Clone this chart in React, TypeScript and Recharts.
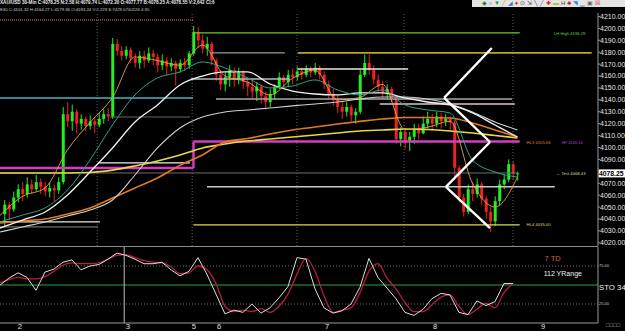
import React from 'react';
import { ComposedChart, Bar, Line, XAxis, YAxis, ReferenceLine, ReferenceDot } from 'recharts';

// 30-min XAU/USD bars, index 1..115 (open = previous close)
const firstOpen = 4044;
const closes = [
  4052, 4048, 4058, 4065, 4061, 4069, 4065, 4071, 4067, 4063,
  4066, 4064, 4071, 4128, 4122, 4130, 4120, 4124, 4118, 4122,
  4119, 4124, 4128, 4126, 4187, 4181, 4177, 4182, 4175, 4171,
  4177, 4173, 4179, 4176, 4169, 4173, 4168, 4171, 4166, 4171,
  4169, 4179, 4197, 4190, 4183, 4187, 4173, 4161, 4153, 4159,
  4165, 4157, 4163, 4155, 4151, 4147, 4151, 4143, 4138, 4145,
  4151, 4159, 4155, 4161, 4159, 4164, 4161, 4166, 4163, 4167,
  4161, 4153, 4145, 4140, 4134, 4130, 4134, 4127, 4130, 4161,
  4171, 4165, 4157, 4151, 4146, 4149, 4142, 4107, 4113, 4105,
  4109, 4116, 4112, 4120, 4124, 4120, 4126, 4122, 4124, 4121,
  4083, 4058, 4046, 4065, 4061, 4069, 4057, 4046, 4038, 4055,
  4069, 4073, 4086, 4077.77, 4078.25,
];
const highs = [
  4056, 4054, 4063, 4069, 4071, 4075, 4073, 4077, 4074, 4071,
  4071, 4069, 4075, 4134, 4138, 4136, 4132, 4128, 4126, 4127,
  4126, 4129, 4132, 4133, 4192, 4191, 4185, 4185, 4184, 4179,
  4181, 4181, 4184, 4182, 4179, 4178, 4176, 4175, 4173, 4174,
  4175, 4181, 4202, 4201, 4195, 4193, 4189, 4175, 4165, 4163,
  4169, 4167, 4167, 4165, 4159, 4156, 4155, 4153, 4147, 4149,
  4153, 4163, 4161, 4165, 4166, 4168, 4167, 4169, 4168, 4171,
  4169, 4164, 4156, 4149, 4144, 4138, 4138, 4136, 4133, 4165,
  4178, 4178, 4169, 4161, 4156, 4153, 4151, 4144, 4117, 4115,
  4113, 4120, 4120, 4126, 4130, 4128, 4130, 4129, 4128, 4126,
  4123, 4085, 4061, 4069, 4071, 4074, 4071, 4059, 4050, 4059,
  4073, 4077, 4090, 4088, 4079.74,
];
const lows = [
  4034, 4039, 4046, 4054, 4055, 4058, 4061, 4063, 4061, 4059,
  4058, 4055, 4061, 4069, 4117, 4114, 4112, 4115, 4114, 4115,
  4112, 4117, 4120, 4122, 4124, 4177, 4173, 4174, 4171, 4167,
  4166, 4167, 4171, 4169, 4163, 4165, 4161, 4164, 4152, 4163,
  4164, 4166, 4177, 4184, 4179, 4177, 4169, 4156, 4148, 4147,
  4151, 4151, 4153, 4149, 4143, 4141, 4139, 4137, 4132, 4134,
  4141, 4149, 4149, 4151, 4153, 4156, 4157, 4159, 4159, 4161,
  4157, 4149, 4141, 4135, 4129, 4124, 4126, 4122, 4120, 4128,
  4159, 4161, 4153, 4146, 4141, 4141, 4138, 4103, 4101, 4099,
  4097, 4103, 4107, 4111, 4116, 4114, 4117, 4116, 4118, 4114,
  4075, 4054, 4042, 4044, 4055, 4058, 4052, 4040, 4029, 4034,
  4051, 4065, 4071, 4073, 4072.2,
];

// moving averages, read every 5th bar
const maIdx = [0, 5, 10, 15, 20, 25, 30, 35, 40, 45, 50, 55, 60, 65, 70, 75, 80, 85, 90, 95, 100, 105, 110, 115];
const maFast = [4043, 4059, 4066, 4098, 4121, 4142, 4176, 4173, 4169, 4186, 4160, 4155, 4144, 4158, 4165, 4140, 4142, 4153, 4115, 4117, 4122, 4070, 4050, 4075];
const maTeal = [4037.5, 4043.3, 4049.2, 4064.3, 4089.5, 4118.9, 4144.1, 4158.4, 4163.4, 4171.8, 4166.8, 4158.4, 4150, 4151.6, 4156.7, 4148.3, 4144.1, 4148.3, 4135.7, 4131.5, 4129, 4089.5, 4079.4, 4075.2];
const maWhiteA = [4032.4, 4039.1, 4045.8, 4060.1, 4079.4, 4099.6, 4121.4, 4135.7, 4152.5, 4160, 4163.4, 4163.4, 4153.3, 4147.4, 4144.9, 4144.1, 4145.8, 4145.8, 4141.6, 4138.2, 4135.7, 4129, 4118.9, 4108.8];
const maWhiteB = [4029, 4033.3, 4037.5, 4042.5, 4047.5, 4055.9, 4076.9, 4099.6, 4116.4, 4125.6, 4129.8, 4131.5, 4133.2, 4134.9, 4136.5, 4138.2, 4140.7, 4142.4, 4142.4, 4140.7, 4136.5, 4129.8, 4121.4, 4114.7];
const maOrange = [4036.6, 4038.3, 4040, 4044.2, 4049.2, 4057.6, 4066, 4074.4, 4085, 4093.7, 4104.6, 4107.5, 4111.3, 4114.7, 4117.2, 4119.7, 4121.9, 4123.9, 4125.2, 4125.2, 4124.8, 4120.6, 4114.7, 4108.8];
const maYellow = [4078.6, 4078.6, 4078.6, 4078.6, 4079, 4081, 4084.5, 4088.7, 4093.7, 4099.6, 4102.9, 4105.4, 4107.1, 4108.8, 4110.5, 4112.2, 4113.9, 4114.7, 4115.5, 4115.1, 4113.9, 4112.2, 4110.1, 4108];

// drawn levels: price, from bar, to bar
const levelPrice = [4207.1, 4196.29, 4179.4, 4179.4, 4165.9, 4157.5, 4141.6, 4140.7, 4136.5, 4082.8, 4105, 4087, 4078.6, 4067, 4037.5, 4033.3, 4035, 4125.6];
const levelFrom = [0, 43, 47, 66.2, 66.2, 42.4, 0, 48, 84.4, 0, 43, 21.8, 0, 46, 0, 0, 43, 24.4];
const levelTo = [43, 115.5, 63.3, 131.5, 90.7, 64.4, 42.9, 113.8, 114.4, 43, 115.5, 42.2, 115, 123.3, 22.2, 21.8, 115.5, 42.2];
const levelStyle = [
  { c: '#c8946a', w: 1, d: '1 1' },
  { c: '#66cc33', w: 1.2, d: '' },
  { c: '#9a9a9a', w: 1.2, d: '' },
  { c: '#b4a832', w: 1.6, d: '' },
  { c: '#e6e6e6', w: 1.6, d: '' },
  { c: '#b8b8b8', w: 1.4, d: '' },
  { c: '#45b4c4', w: 1.6, d: '' },
  { c: '#a8a8a8', w: 1.4, d: '' },
  { c: '#dcc4d0', w: 1.4, d: '' },
  { c: '#d43cc4', w: 2.4, d: '' },
  { c: '#d43cc4', w: 2.4, d: '' },
  { c: '#f0f0f0', w: 1.2, d: '' },
  { c: '#6e6e6e', w: 1, d: '' },
  { c: '#c8c8c8', w: 1.6, d: '' },
  { c: '#f0e6d0', w: 1.2, d: '' },
  { c: '#8a8a8a', w: 1, d: '' },
  { c: '#e0d848', w: 1.2, d: '' },
  { c: '#808080', w: 0.8, d: '' },
];

// white zigzag drawing
const zigX = [109.3, 98.7, 108.9, 99.1, 108.9];
const zigP = [4183.5, 4141.6, 4104.6, 4066.9, 4032.4];

const priceTicks = [4020, 4030, 4040, 4050, 4060, 4070, 4090, 4100, 4110, 4120, 4130, 4140, 4150, 4160, 4170, 4180, 4190, 4200, 4210];
const dayTicks = [4.4, 28.4, 43.1, 48.7, 72.7, 96.7, 120.7];
const dayLabels = ['2', '3', '5', '6', '7', '8', '9'];
const midDay = [21.6, 42.7, 66, 89.8, 114];
const weekSep = 27.6;

// stochastic, every 2nd bar
const stochK = [50, 59, 66, 60, 43, 67, 71, 80, 83, 70, 75, 77, 84, 92, 89, 84, 78, 78, 80, 70, 62, 68, 86, 64, 38, 12, 17, 14, 25, 13, 20, 33, 48, 86, 84, 45, 20, 13, 16, 25, 47, 85, 60, 46, 32, 14, 10, 18, 32, 39, 37, 14, 11, 29, 23, 28, 52, 52];
const stochD = [53, 57, 60, 58, 58, 61, 68, 76, 79, 78, 78, 79, 84, 89, 90, 86, 82, 80, 79, 74, 65, 66, 75, 70, 52, 22, 15, 17, 15, 19, 14, 22, 38, 64, 85, 68, 36, 14, 17, 20, 40, 68, 78, 59, 45, 27, 15, 15, 24, 34, 37, 22, 11, 18, 26, 20, 40, 52];

const lastClose = closes[closes.length - 1];
const X_MAX = 132.9;
const FONT = '"Liberation Sans", Arial, sans-serif';

const priceData = Array.from({ length: closes.length + 1 }, (_, i) => {
  const row: any = { i };
  if (i > 0) {
    const o = i === 1 ? firstOpen : closes[i - 2];
    row.o = o;
    row.c = closes[i - 1];
    row.h = highs[i - 1];
    row.l = lows[i - 1];
    row.range = [lows[i - 1], highs[i - 1]];
  }
  const k = maIdx.indexOf(i);
  if (k >= 0) {
    row.fast = maFast[k];
    row.teal = maTeal[k];
    row.wa = maWhiteA[k];
    row.wb = maWhiteB[k];
    row.orange = maOrange[k];
    row.yellow = maYellow[k];
  }
  return row;
});

const stochData = stochK.map((k, j) => ({ i: j * 2, k, d: stochD[j] }));

function Candle(props: any) {
  const { x, y, width, height, payload } = props;
  if (!payload || payload.h == null) return null;
  const top = Math.min(y, y + height);
  const h = Math.abs(height);
  const ppu = h / (payload.h - payload.l || 1);
  const up = payload.c >= payload.o;
  const color = up ? '#22ee22' : '#ee2222';
  const bTop = top + (payload.h - Math.max(payload.o, payload.c)) * ppu;
  const bBot = top + (payload.h - Math.min(payload.o, payload.c)) * ppu;
  const cx = x + width / 2;
  return (
    <g>
      <line x1={cx} x2={cx} y1={top} y2={top + h} stroke={color} strokeWidth={1} />
      <rect x={x} y={bTop} width={width} height={Math.max(1, bBot - bTop)} fill={color} />
    </g>
  );
}

function PriceTag(props: any) {
  const vb = props.viewBox;
  if (!vb) return null;
  const x = vb.x + vb.width;
  return (
    <g>
      <rect x={x + 0.5} y={vb.y - 4} width={27} height={8} fill="#ffffff" />
      <text x={x + 1} y={vb.y + 2.6} fontSize={6.8} fontWeight="bold" fill="#000" fontFamily={FONT}>
        {lastClose.toFixed(2)}
      </text>
    </g>
  );
}

const smallLabel = (value: string, fill: string, fontSize: number) => ({
  value,
  position: 'right' as const,
  offset: 1,
  fill,
  fontSize,
  fontFamily: FONT,
});

const toolIcons = ['◆', '⌕', '▼', '╱', '◢', '♦', '⊙', '⇲', '╲', '╱', '✚', '▬', 'H', '♣', '◥', '▁', '▣', '☒'];
const toolColors = ['#2a8a3a', '#8a4ab0', '#2a9a2a', '#d08a20', '#3a7ad0', '#d02020', '#555', '#555', '#444', '#8a4ab0', '#d02020', '#c8b820', '#444', '#c02020', '#3a8ad0', '#3a8ad0', '#666', '#d02020'];

export default function App() {
  return (
    <div style={{ position: 'relative', width: 625, height: 331, background: '#000', overflow: 'hidden', fontFamily: FONT }}>
      <style>{'body{margin:0;background:#000}'}</style>

      <div style={{ position: 'absolute', left: 0, top: 0, fontSize: 4.6, color: '#e8e8e8', whiteSpace: 'nowrap', lineHeight: '6px', fontWeight: 'bold' }}>
        XAU/USD 30-Min C:4078.25 N:2.58 H:4079.74 L:4072.20 O:4077.77 B:4078.25 A:4078.55 V:2,642 CI:6
      </div>
      <div style={{ position: 'absolute', left: 0, top: 6.5, fontSize: 4.3, color: '#cfcfcf', whiteSpace: 'nowrap', lineHeight: '6px' }}>
        E30 C:4101.32 H:4164.27 L:4179.36 O:4183.24 V:2,229 S:7429 07/02/26 4:35
      </div>
      <div style={{ position: 'absolute', left: 472, top: 0, width: 153, height: 7, background: '#e4e4e4', display: 'flex', gap: 2, paddingLeft: 10, boxSizing: 'border-box', fontSize: 6, lineHeight: '7px' }}>
        {toolIcons.map((t, k) => (
          <span key={k} style={{ color: toolColors[k] }}>{t}</span>
        ))}
      </div>

      <div style={{ position: 'absolute', left: 0, top: 0 }}>
        <ComposedChart width={625} height={246} data={priceData} margin={{ top: 13, right: 0, bottom: 0, left: 0 }}>
          <XAxis dataKey="i" type="number" domain={[0, X_MAX]} hide allowDataOverflow />
          <YAxis
            orientation="right"
            domain={[4017.3, 4212.9]}
            ticks={priceTicks}
            interval={0}
            width={27}
            allowDataOverflow
            tickSize={2}
            tickMargin={0}
            tick={{ fill: '#e6e6e6', fontSize: 7, fontFamily: FONT }}
            tickFormatter={(v: number) => v.toFixed(2)}
            axisLine={{ stroke: '#9a9a9a' }}
            tickLine={{ stroke: '#9a9a9a' }}
          />
          {midDay.map((m, k) => (
            <ReferenceLine key={'md' + k} x={m} stroke="#5a5a5a" strokeDasharray="1 2" />
          ))}
          {levelPrice.map((p, k) => (
            <ReferenceLine
              key={'lv' + k}
              segment={[{ x: levelFrom[k], y: p }, { x: levelTo[k], y: p }]}
              stroke={levelStyle[k].c}
              strokeWidth={levelStyle[k].w}
              strokeDasharray={levelStyle[k].d}
            />
          ))}
          <ReferenceLine
            segment={[{ x: levelFrom[10], y: levelPrice[9] }, { x: levelFrom[10], y: levelPrice[10] }]}
            stroke={levelStyle[10].c}
            strokeWidth={levelStyle[10].w}
          />
          <Line dataKey="yellow" stroke="#e8d840" strokeWidth={1.6} dot={false} connectNulls type="monotone" isAnimationActive={false} />
          <Line dataKey="orange" stroke="#e07a22" strokeWidth={1.6} dot={false} connectNulls type="monotone" isAnimationActive={false} />
          <Line dataKey="wb" stroke="#d0d0d0" strokeWidth={1.1} dot={false} connectNulls type="monotone" isAnimationActive={false} />
          <Line dataKey="wa" stroke="#f2f2f2" strokeWidth={1.3} dot={false} connectNulls type="monotone" isAnimationActive={false} />
          <Line dataKey="teal" stroke="#2aa58a" strokeWidth={1} dot={false} connectNulls type="monotone" isAnimationActive={false} />
          <Bar dataKey="range" barSize={3} shape={(p: any) => <Candle {...p} />} isAnimationActive={false} />
          <Line dataKey="fast" stroke="#e8a44a" strokeWidth={0.9} dot={false} connectNulls type="monotone" isAnimationActive={false} />
          {zigX.slice(1).map((x, k) => (
            <ReferenceLine
              key={'zz' + k}
              segment={[{ x: zigX[k], y: zigP[k] }, { x, y: zigP[k + 1] }]}
              stroke="#ffffff"
              strokeWidth={2.4}
            />
          ))}
          <ReferenceDot x={122.9} y={4196} r={0} fill="none" stroke="none" label={smallLabel('LH High 4196.29', '#6fd040', 4.2)} />
          <ReferenceDot x={116.8} y={4104.4} r={0} fill="none" stroke="none" label={smallLabel('HL3 4105.06', '#e07a40', 4.2)} />
          <ReferenceDot x={124.6} y={4104.4} r={0} fill="none" stroke="none" label={smallLabel('HP 4106.16', '#b044d0', 4)} />
          <ReferenceDot x={123.4} y={4078.3} r={0} fill="none" stroke="none" label={smallLabel('← Test 4068.43', '#dcdc96', 4.2)} />
          <ReferenceDot x={116.8} y={4035.6} r={0} fill="none" stroke="none" label={smallLabel('HL4 4035.00', '#e0d070', 4.2)} />
          <ReferenceLine y={lastClose} stroke="none" label={(p: any) => <PriceTag {...p} />} />
        </ComposedChart>
      </div>

      <div style={{ position: 'absolute', left: 0, top: 246, width: 598, height: 1, background: '#8a8a8a' }} />

      <div style={{ position: 'absolute', left: 0, top: 246 }}>
        <ComposedChart width={625} height={85} data={stochData} margin={{ top: 1, right: 0, bottom: 0, left: 0 }}>
          <XAxis
            dataKey="i"
            type="number"
            domain={[0, X_MAX]}
            allowDataOverflow
            ticks={dayTicks}
            interval={0}
            height={8}
            tickSize={1}
            tickMargin={0}
            tickLine={false}
            axisLine={{ stroke: '#9a9a9a' }}
            tick={{ fill: '#e0e0e0', fontSize: 7.5, fontFamily: FONT }}
            tickFormatter={(v: number) => dayLabels[dayTicks.indexOf(v)]}
          />
          <YAxis
            orientation="right"
            domain={[0, 100]}
            ticks={[25, 75]}
            interval={0}
            width={27}
            tickSize={0}
            tickMargin={1}
            tick={{ fill: '#cfcfcf', fontSize: 4, fontFamily: FONT }}
            tickFormatter={(v: number) => v.toFixed(2)}
            axisLine={{ stroke: '#9a9a9a' }}
            tickLine={false}
          />
          <ReferenceLine y={75} stroke="#6a6a6a" strokeDasharray="1 2" />
          <ReferenceLine y={25} stroke="#6a6a6a" strokeDasharray="1 2" />
          <ReferenceLine y={50} stroke="#1f6e1f" strokeWidth={1.5} />
          <ReferenceLine x={weekSep} stroke="#bdbdbd" />
          <Line dataKey="d" stroke="#b81e3c" strokeWidth={1.3} dot={false} type="monotone" isAnimationActive={false} />
          <Line dataKey="k" stroke="#dedede" strokeWidth={1} dot={false} type="linear" isAnimationActive={false} />
          <ReferenceDot x={120.8} y={85.5} r={0} fill="none" stroke="none" label={smallLabel('7 TD', '#d0603c', 7.5)} />
          <ReferenceDot x={120.6} y={64.5} r={0} fill="none" stroke="none" label={smallLabel('112 YRange', '#f0f0f0', 7)} />
          <ReferenceDot x={X_MAX} y={47.5} r={0} fill="none" stroke="none" label={smallLabel('STO 34', '#f0f0f0', 7.8)} />
        </ComposedChart>
      </div>

      <div style={{ position: 'absolute', left: 606, top: 322, fontSize: 5.5, color: '#bbb', letterSpacing: 0.3 }}>□□□□</div>
    </div>
  );
}
